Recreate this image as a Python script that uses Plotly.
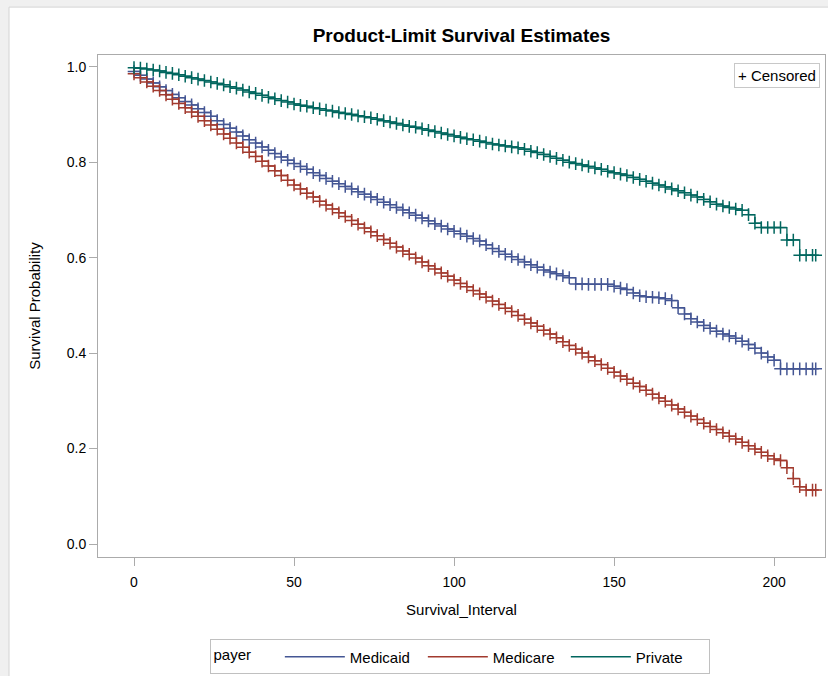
import plotly.graph_objects as go

# ---- data (time, survival probability) ----
times = [0, 2, 4, 6, 8, 10, 12, 14, 16, 18, 20, 22, 24, 26, 28, 30, 32, 34, 36, 38,
         40, 42, 44, 46, 48, 50, 52, 54, 56, 58, 60, 62, 64, 66, 68, 70, 72, 74, 76, 78,
         80, 82, 84, 86, 88, 90, 92, 94, 96, 98, 100, 102, 104, 106, 108, 110, 112, 114, 116, 118,
         120, 122, 124, 126, 128, 130, 132, 134, 136, 138, 140, 142, 144, 146, 148, 150, 152, 154, 156, 158,
         160, 162, 164, 166, 168, 170, 172, 174, 176, 178, 180, 182, 184, 186, 188, 190, 192, 194, 196, 198,
         200, 202, 204, 206, 208, 210, 212, 213]

medicaid = [0.990, 0.982, 0.974, 0.966, 0.958, 0.950, 0.942, 0.935, 0.927, 0.920,
            0.912, 0.904, 0.896, 0.887, 0.879, 0.871, 0.863, 0.855, 0.847, 0.840,
            0.832, 0.825, 0.818, 0.811, 0.804, 0.797, 0.791, 0.785, 0.778, 0.772,
            0.766, 0.760, 0.755, 0.749, 0.744, 0.738, 0.733, 0.727, 0.722, 0.716,
            0.711, 0.705, 0.700, 0.694, 0.689, 0.683, 0.677, 0.671, 0.666, 0.660,
            0.655, 0.650, 0.645, 0.640, 0.635, 0.627, 0.619, 0.613, 0.607, 0.602,
            0.596, 0.591, 0.585, 0.580, 0.574, 0.570, 0.566, 0.562, 0.558, 0.545,
            0.545, 0.544, 0.544, 0.544, 0.544, 0.540, 0.536, 0.533, 0.526, 0.520,
            0.518, 0.517, 0.516, 0.514, 0.510, 0.495, 0.482, 0.472, 0.465, 0.458,
            0.452, 0.446, 0.440, 0.436, 0.431, 0.425, 0.418, 0.410, 0.400, 0.392,
            0.385, 0.367, 0.367, 0.367, 0.367, 0.367, 0.367, 0.367]

medicare = [0.985, 0.977, 0.968, 0.959, 0.950, 0.941, 0.932, 0.923, 0.914, 0.905,
            0.896, 0.887, 0.878, 0.869, 0.859, 0.850, 0.840, 0.831, 0.821, 0.812,
            0.802, 0.792, 0.782, 0.772, 0.762, 0.752, 0.744, 0.735, 0.727, 0.718,
            0.710, 0.702, 0.694, 0.686, 0.678, 0.670, 0.662, 0.654, 0.646, 0.638,
            0.630, 0.622, 0.614, 0.607, 0.599, 0.591, 0.583, 0.576, 0.568, 0.561,
            0.553, 0.546, 0.539, 0.531, 0.524, 0.517, 0.509, 0.502, 0.494, 0.487,
            0.479, 0.471, 0.463, 0.456, 0.448, 0.440, 0.432, 0.424, 0.416, 0.408,
            0.400, 0.392, 0.384, 0.376, 0.368, 0.360, 0.352, 0.345, 0.337, 0.330,
            0.322, 0.314, 0.306, 0.299, 0.291, 0.283, 0.276, 0.268, 0.261, 0.253,
            0.246, 0.240, 0.233, 0.226, 0.220, 0.213, 0.206, 0.199, 0.192, 0.185,
            0.178, 0.175, 0.160, 0.137, 0.120, 0.113, 0.113, 0.113]

private = [0.998, 0.997, 0.995, 0.993, 0.991, 0.988, 0.986, 0.983, 0.980, 0.977,
           0.974, 0.971, 0.968, 0.965, 0.962, 0.958, 0.955, 0.951, 0.947, 0.944,
           0.940, 0.936, 0.933, 0.929, 0.926, 0.922, 0.919, 0.917, 0.914, 0.912,
           0.909, 0.907, 0.904, 0.902, 0.900, 0.897, 0.895, 0.893, 0.890, 0.887,
           0.884, 0.881, 0.878, 0.875, 0.873, 0.870, 0.867, 0.864, 0.861, 0.858,
           0.855, 0.852, 0.849, 0.847, 0.844, 0.841, 0.838, 0.836, 0.834, 0.832,
           0.830, 0.827, 0.823, 0.820, 0.816, 0.812, 0.808, 0.804, 0.800, 0.797,
           0.794, 0.791, 0.788, 0.785, 0.781, 0.778, 0.775, 0.772, 0.768, 0.764,
           0.760, 0.756, 0.752, 0.748, 0.744, 0.740, 0.736, 0.731, 0.727, 0.722,
           0.717, 0.712, 0.708, 0.705, 0.702, 0.699, 0.690, 0.672, 0.663, 0.663,
           0.663, 0.663, 0.637, 0.637, 0.605, 0.605, 0.605, 0.605]

series_names = ["Medicaid", "Medicare", "Private"]
series_values = [medicaid, medicare, private]
series_colors = ["#445694", "#A23A2E", "#01665E"]

x_ticks = [0, 50, 100, 150, 200]
y_ticks = [0.0, 0.2, 0.4, 0.6, 0.8, 1.0]

FONT = "Liberation Sans, Arial, sans-serif"

fig = go.Figure()
for name, vals, col in zip(series_names, series_values, series_colors):
    fig.add_trace(go.Scatter(x=times, y=vals, mode="lines", name=name,
                             line=dict(color=col, width=1.3, shape="hv"),
                             hoverinfo="skip"))
for name, vals, col in zip(series_names, series_values, series_colors):
    fig.add_trace(go.Scatter(x=times, y=vals, mode="markers", showlegend=False,
                             marker=dict(symbol="cross-thin", size=9,
                                         line=dict(color=col, width=1.5)),
                             hoverinfo="skip"))

axis_common = dict(showgrid=False, zeroline=False, showline=True, mirror=True,
                   linecolor="#ababab", linewidth=1, ticks="outside", ticklen=8,
                   tickcolor="#ababab", tickfont=dict(family=FONT, size=14, color="#000"))

fig.update_xaxes(range=[-11.25, 215.9], tickvals=x_ticks,
                 ticktext=[str(v) for v in x_ticks], ticklabelstandoff=4,
                 title=dict(text="Survival_Interval", standoff=15,
                            font=dict(family=FONT, size=15, color="#000")),
                 **axis_common)
fig.update_yaxes(range=[-0.0272, 1.0245], tickvals=y_ticks,
                 ticktext=["%.1f" % v for v in y_ticks],
                 title=dict(text="Survival Probability", standoff=22,
                            font=dict(family=FONT, size=15, color="#000")),
                 **axis_common)

# outer frame of the graph image
fig.add_shape(type="rect", xref="paper", yref="paper",
              x0=-0.1224, x1=1.01, y0=-0.25, y1=1.0954,
              fillcolor="white", line=dict(color="#d4d4d4", width=1), layer="below")

fig.add_annotation(text="+ Censored", xref="paper", yref="paper",
                   x=0.9935, y=0.984, xanchor="right", yanchor="top", showarrow=False,
                   font=dict(family=FONT, size=15, color="#000"),
                   bordercolor="#c8c8c8", borderwidth=1, borderpad=3, bgcolor="white")

fig.update_layout(
    width=828, height=676,
    margin=dict(l=98, r=3, t=55, b=118),
    paper_bgcolor="#f0f0f0", plot_bgcolor="white",
    title=dict(text="<b>Product-Limit Survival Estimates</b>", x=0.5, xref="paper",
               y=1 - 35 / 676, yref="container", yanchor="middle", xanchor="center",
               font=dict(family=FONT, size=19, color="#000")),
    legend=dict(orientation="h", x=0.4986, xanchor="center", y=-0.162, yanchor="top",
                bgcolor="white", bordercolor="#c0c0c0", borderwidth=1,
                itemwidth=60, entrywidth=68, valign="middle",
                title=dict(text="payer     ", font=dict(family=FONT, size=15, color="#000")),
                font=dict(family=FONT, size=15, color="#000")),
    showlegend=True,
)

fig.write_html("out.html", config={"displayModeBar": False},
               post_script="document.body.style.margin='0';document.body.style.overflow='hidden';")
